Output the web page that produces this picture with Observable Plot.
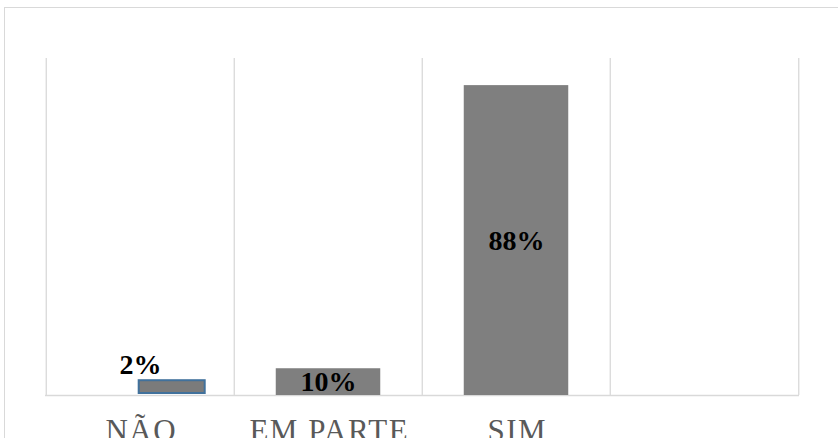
<!DOCTYPE html>
<html>
<head>
<meta charset="utf-8">
<script src="https://cdn.jsdelivr.net/npm/d3@7"></script>
<script src="https://cdn.jsdelivr.net/npm/@observablehq/plot@0.6"></script>
<style>
  html, body { margin: 0; padding: 0; background: #fff; overflow: hidden; }
  #wrap { position: relative; width: 838px; height: 438px; overflow: hidden; }
  #frame { position: absolute; left: 4px; top: 7px; width: 900px; height: 600px;
           border: 1.5px solid #d9d9d9; box-sizing: border-box; }
  #chart { position: absolute; left: 0; top: 0; }
  #chart svg, #chart svg text { font-family: "Liberation Serif", "Times New Roman", Times, serif !important; }
  #chart g[aria-label="x-axis tick label"] text { letter-spacing: 1.5px; }
</style>
</head>
<body>
<div id="wrap"><div id="frame"></div><div id="chart"></div></div>
<script>
// Categories (4th column of the chart is empty)
const categories = ["NÃO", "EM PARTE", "SIM", ""];
// Bar heights as drawn in the picture (percent scale)
const heights = [4.2, 7.6, 88];
// Data labels printed on the bars
const labels = ["2%", "10%", "88%"];

const data = heights.map((h, i) => ({cat: categories[i], h, label: labels[i]}));

const W = 838, H = 438, ML = 45, MR = 39, MT = 58, MB = 43;
const bw = (W - ML - MR) / categories.length;
const yMax = 95.7;
const gray = "#7f7f7f";
const grid = "#d9d9d9";
const serif = "Liberation Serif, Times New Roman, serif";

const small = data.filter(d => d.h < 6);
const big = data.filter(d => d.h >= 6);

const chart = Plot.plot({
  width: W, height: H,
  marginLeft: ML, marginRight: MR, marginTop: MT, marginBottom: MB,
  style: {fontFamily: serif, background: "transparent", overflow: "visible"},
  x: {domain: categories, padding: 0},
  y: {domain: [0, yMax], axis: null},
  marks: [
    // vertical gridlines at category boundaries
    Plot.ruleX(categories, {x: d => d, dx: -bw / 2, stroke: grid, strokeWidth: 1.3}),
    Plot.ruleX([categories[categories.length - 1]], {x: d => d, dx: bw / 2, stroke: grid, strokeWidth: 1.3}),
    Plot.ruleY([0], {stroke: grid, strokeWidth: 1.5}),
    // big bars
    Plot.barY(big, {x: "cat", y: "h", fill: gray, insetLeft: 41.75, insetRight: 41.75}),
    // small bar with blue outline
    Plot.barY(small, {x: "cat", y: "h", fill: "#7b7b7b", stroke: "#41719c", strokeWidth: 2,
                      insetLeft: 92.7, insetRight: 29.3, insetBottom: 2}),
    // labels
    Plot.text(big, {x: "cat", y: d => d.h / 2, text: "label", fontSize: 28, fontWeight: "bold",
                    fontFamily: serif, fill: "#000", lineAnchor: "middle"}),
    Plot.text(small, {x: "cat", y: "h", text: "label", fontSize: 28, fontWeight: "bold",
                      fontFamily: serif, fill: "#000", lineAnchor: "bottom", dy: -7}),
    Plot.axisX({tickSize: 0, tickPadding: 23, fontSize: 31, fontFamily: serif, fill: "#595959", label: null, dx: 0.75})
  ]
});
document.getElementById("chart").appendChild(chart);
</script>
</body>
</html>
